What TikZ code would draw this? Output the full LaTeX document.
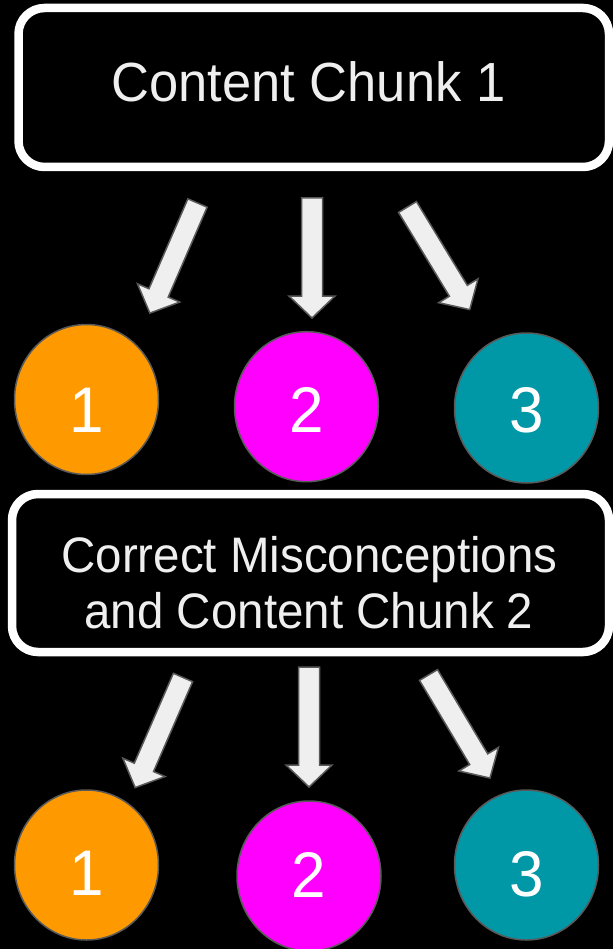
\documentclass[tikz,border=0pt]{standalone}
\usepackage{fontspec}
\setmainfont{Liberation Sans}
\usetikzlibrary{shapes.geometric}
\definecolor{txtgray}{HTML}{EFEFEF}
\definecolor{edgegray}{HTML}{595959}
\definecolor{cOrange}{HTML}{FF9900}
\definecolor{cMagenta}{HTML}{FF00FF}
\definecolor{cTeal}{HTML}{0097A7}
\tikzset{
  chunkbox/.style={draw=white, line width=8.5pt, rounded corners=26pt, fill=black, inner sep=0pt},
  boxtext/.style={text=txtgray, inner sep=0pt, anchor=base, yscale=1.05, transform shape},
  dot/.style={ellipse, draw=edgegray, line width=1.5pt, minimum width=144pt, minimum height=150pt, inner sep=0pt},
  digit/.style={text=white, inner sep=0pt, anchor=base, font=\fontsize{62}{70}\selectfont, yscale=1.04, transform shape},
  arrowshape/.style={fill=txtgray, draw=edgegray, line width=1.5pt, line join=miter}
}
\newcommand{\fatarrow}[2]{%
  \begin{scope}[shift={(#1)}, rotate=#2]
    \draw[arrowshape] (0,-10.5) -- (98,-10.5) -- (98,-23) -- (120,0) -- (98,23) -- (98,10.5) -- (0,10.5) -- cycle;
  \end{scope}}
\begin{document}
\begin{tikzpicture}[x=1pt, y=1pt]
  \fill[black] (0,0) rectangle (613,-949);
  \useasboundingbox (0,0) rectangle (613,-949);

  % Box 1
  \node[chunkbox, minimum width=590.5pt, minimum height=159pt] (box1) at (313.75,-87.5) {};
  \node[boxtext, font=\fontsize{52.5}{62}\selectfont] (box1text) at (308.5,-102) {Content Chunk 1};

  % Arrows row 1
  \coordinate (a1l) at (197.5,-203);
  \coordinate (a1m) at (312,-198);
  \coordinate (a1r) at (407.5,-207);
  \fatarrow{a1l}{246.6}
  \fatarrow{a1m}{270}
  \fatarrow{a1r}{301.25}

  % Circles row 1
  \node[dot, fill=cOrange] (c11) at (86.5,-399.5) {};
  \node[dot, fill=cMagenta] (c12) at (306.5,-406.7) {};
  \node[dot, fill=cTeal] (c13) at (526.5,-408) {};
  \node[digit] (d11) at (86.5,-432) {1};
  \node[digit] (d12) at (306.5,-432) {2};
  \node[digit] (d13) at (526.5,-432) {3};

  % Box 2
  \node[chunkbox, minimum width=597pt, minimum height=158pt] (box2) at (310.5,-573) {};
  \node[boxtext, font=\fontsize{47.5}{56}\selectfont] (box2l1) at (309.5,-572) {Correct Misconceptions};
  \node[boxtext, font=\fontsize{47.5}{56}\selectfont] (box2l2) at (309,-628) {and Content Chunk 2};

  % Arrows row 2
  \coordinate (a2l) at (183,-677.5);
  \coordinate (a2m) at (309,-667);
  \coordinate (a2r) at (428.5,-675);
  \fatarrow{a2l}{246.5}
  \fatarrow{a2m}{270}
  \fatarrow{a2r}{300.8}

  % Circles row 2
  \node[dot, fill=cOrange] (c21) at (86.5,-865) {};
  \node[dot, fill=cMagenta] (c22) at (309,-876) {};
  \node[dot, fill=cTeal] (c23) at (526.5,-865) {};
  \node[digit] (d21) at (86.5,-895) {1};
  \node[digit] (d22) at (309,-897) {2};
  \node[digit] (d23) at (526.5,-896) {3};
\end{tikzpicture}
\end{document}
